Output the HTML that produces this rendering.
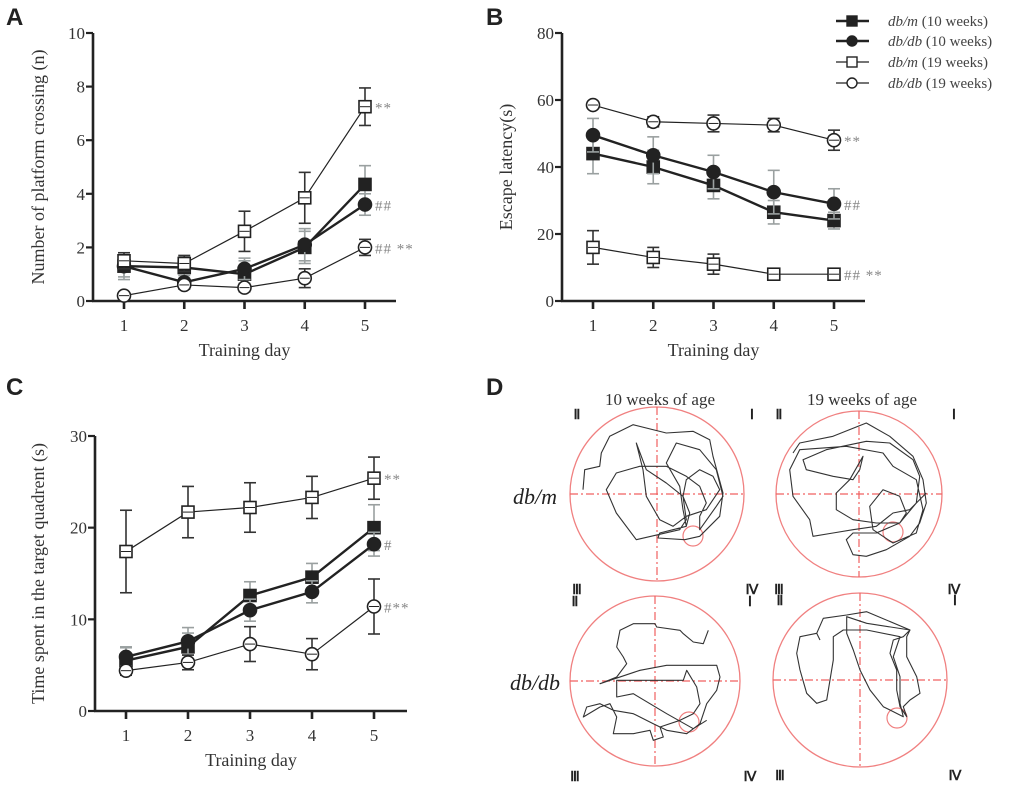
<!DOCTYPE html>
<html><head><meta charset="utf-8"><style>
html,body{margin:0;padding:0;background:#fff;}
svg{display:block;font-family:"Liberation Serif",serif;}
.pl{font-family:"Liberation Sans",sans-serif;font-weight:bold;font-size:24px;fill:#222;}
</style></head><body>
<svg id="fig" width="1020" height="785" viewBox="0 0 1020 785" xmlns="http://www.w3.org/2000/svg"></svg>
<script>
const days=[1,2,3,4,5];
// Panel A: platform crossings
const aDbm10=[1.3,1.25,1.0,2.0,4.35], aDbm10e=[0.5,0.4,0.5,0.6,0.7];
const aDbdb10=[1.3,0.7,1.2,2.1,3.6], aDbdb10e=[0.4,0.25,0.4,0.6,0.4];
const aDbm19=[1.5,1.4,2.6,3.85,7.25], aDbm19e=[0.3,0.3,0.75,0.95,0.7];
const aDbdb19=[0.2,0.6,0.5,0.85,2.0], aDbdb19e=[0.1,0.15,0.15,0.35,0.3];
const aTicks=[0,2,4,6,8,10];
// Panel B: escape latency
const bDbm10=[44,40,34.5,26.5,24], bDbm10e=[6,5,4,3.5,2.5];
const bDbdb10=[49.5,43.5,38.5,32.5,29], bDbdb10e=[5,5.5,5,6.5,4.5];
const bDbm19=[16,13,11,8,8], bDbm19e=[5,3,3,1,1];
const bDbdb19=[58.5,53.5,53,52.5,48], bDbdb19e=[1,1.5,2.5,2,3];
const bTicks=[0,20,40,60,80];
// Panel C: time in target quadrant
const cDbm10=[5.5,7,12.6,14.6,20], cDbm10e=[1.5,1.5,1.5,1.5,2.5];
const cDbdb10=[5.9,7.6,11,13,18.2], cDbdb10e=[1,1.5,1.2,1.2,1.3];
const cDbm19=[17.4,21.7,22.2,23.3,25.4], cDbm19e=[4.5,2.8,2.7,2.3,2.3];
const cDbdb19=[4.4,5.3,7.3,6.2,11.4], cDbdb19e=[0.5,0.8,1.9,1.7,3];
const cTicks=[0,10,20,30];

const S=document.getElementById('fig');
const NS='http://www.w3.org/2000/svg';
function el(t,a,p){const e=document.createElementNS(NS,t);for(const k in a)e.setAttribute(k,a[k]);(p||S).appendChild(e);return e;}
function txt(s,a,p){const e=el('text',a,p);e.textContent=s;return e;}

function panel(cfg){
 const g=el('g',{});
 
 
 const X=d=>cfg.x1+(d-1)*(cfg.x5-cfg.x1)/4;
 const Y=v=>cfg.y0-(v/cfg.max)*(cfg.y0-cfg.ytop);
 const ya=el('line',{x1:cfg.ax,y1:cfg.ytop,x2:cfg.ax,y2:cfg.y0+1,stroke:'#222','stroke-width':2.6},g);
 
 const xa=el('line',{x1:cfg.ax-1,y1:cfg.y0,x2:cfg.xend,y2:cfg.y0,stroke:'#222','stroke-width':2.6},g);
 
 cfg.ticks.forEach(t=>{
  el('line',{x1:cfg.ax-7,y1:Y(t),x2:cfg.ax,y2:Y(t),stroke:'#222','stroke-width':2.2},g);
  const l=txt(String(t),{x:cfg.ax-8,y:Y(t)+6,'text-anchor':'end','font-size':17,fill:'#333'},g);
  
 });
 days.forEach(d=>{
  el('line',{x1:X(d),y1:cfg.y0,x2:X(d),y2:cfg.y0+8,stroke:'#222','stroke-width':2.6},g);
  const l=txt(String(d),{x:X(d),y:cfg.y0+30,'text-anchor':'middle','font-size':17,fill:'#333'},g);
  
 });
 const xt=txt('Training day',{x:(cfg.ax+cfg.xend)/2,y:cfg.y0+55,'text-anchor':'middle','font-size':18,fill:'#333'},g);
 
 const yt=txt(cfg.ylabel,{x:0,y:0,'text-anchor':'middle','font-size':18,fill:'#333',transform:`translate(${cfg.ylx},${(cfg.ytop+cfg.y0)/2}) rotate(-90)`},g);
 
 const pl=txt(cfg.letter,{x:cfg.lx,y:cfg.ly,class:'pl'},g);
 
 cfg.series.forEach(s=>{
  const sg=el('g',{},g);
  
  
  const ec=s.grayErr?'#9aa0a0':'#333';
  s.v.forEach((v,i)=>{
   const x=X(days[i]),e=s.e[i];
   el('line',{x1:x,y1:Y(v+e),x2:x,y2:Y(v-e),stroke:ec,'stroke-width':1.6},sg);
   el('line',{x1:x-6,y1:Y(v+e),x2:x+6,y2:Y(v+e),stroke:ec,'stroke-width':1.6},sg);
   el('line',{x1:x-6,y1:Y(v-e),x2:x+6,y2:Y(v-e),stroke:ec,'stroke-width':1.6},sg);
  });
  const pts=s.v.map((v,i)=>X(days[i])+','+Y(v)).join(' ');
  const ln=el('polyline',{points:pts,fill:'none',stroke:'#222','stroke-width':s.filled?2.4:1.2},sg);
  
  s.v.forEach((v,i)=>{
   const x=X(days[i]),y=Y(v);let m;
   if(s.shape==='sq') m=el('rect',{x:x-6,y:y-6,width:12,height:12,fill:s.filled?'#222':'#fff',stroke:'#222','stroke-width':1.6},sg);
   else m=el('circle',{cx:x,cy:y,r:6.5,fill:s.filled?'#222':'#fff',stroke:'#222','stroke-width':1.6},sg);
   
   
   if(!s.filled) el('line',{x1:x-5,y1:y,x2:x+5,y2:y,stroke:'#222','stroke-width':1},sg);
  });
  if(s.note){const n=txt(s.note,{x:X(5)+10,y:Y(s.v[4])+6,'font-size':15,fill:'#888','letter-spacing':'1'},sg);
   }
 });
}
panel({name:'panel-a',letter:'A',lx:6,ly:25,ax:93,ytop:33,y0:301,max:10,x1:124,x5:365,xend:396,ticks:aTicks,ylabel:'Number of platform crossing (n)',ylx:44,
 series:[
 {id:'dbm10',v:aDbm10,e:aDbm10e,shape:'sq',filled:true,grayErr:true},
 {id:'dbdb10',v:aDbdb10,e:aDbdb10e,shape:'ci',filled:true,grayErr:true,note:'##'},
 {id:'dbm19',v:aDbm19,e:aDbm19e,shape:'sq',filled:false,note:'**'},
 {id:'dbdb19',v:aDbdb19,e:aDbdb19e,shape:'ci',filled:false,note:'## **'}]});
panel({name:'panel-b',letter:'B',lx:486,ly:25,ax:562,ytop:33,y0:301,max:80,x1:593,x5:834,xend:865,ticks:bTicks,ylabel:'Escape latency(s)',ylx:512,
 series:[
 {id:'dbm10',v:bDbm10,e:bDbm10e,shape:'sq',filled:true,grayErr:true},
 {id:'dbdb10',v:bDbdb10,e:bDbdb10e,shape:'ci',filled:true,grayErr:true,note:'##'},
 {id:'dbm19',v:bDbm19,e:bDbm19e,shape:'sq',filled:false,note:'## **'},
 {id:'dbdb19',v:bDbdb19,e:bDbdb19e,shape:'ci',filled:false,note:'**'}]});
panel({name:'panel-c',letter:'C',lx:6,ly:395,ax:95,ytop:436,y0:711,max:30,x1:126,x5:374,xend:407,ticks:cTicks,ylabel:'Time spent in the target quadrent (s)',ylx:44,
 series:[
 {id:'dbm10',v:cDbm10,e:cDbm10e,shape:'sq',filled:true,grayErr:true},
 {id:'dbdb10',v:cDbdb10,e:cDbdb10e,shape:'ci',filled:true,grayErr:true,note:'#'},
 {id:'dbm19',v:cDbm19,e:cDbm19e,shape:'sq',filled:false,note:'**'},
 {id:'dbdb19',v:cDbdb19,e:cDbdb19e,shape:'ci',filled:false,note:'#**'}]});

// Legend
const lg=el('g',{});


[['dbm10','sq',true,'db/m','(10 weeks)',21],['dbdb10','ci',true,'db/db','(10 weeks)',41],['dbm19','sq',false,'db/m','(19 weeks)',62],['dbdb19','ci',false,'db/db','(19 weeks)',83]].forEach(r=>{
 const eg=el('g',{},lg);
 
 
 el('line',{x1:836,y1:r[5],x2:869,y2:r[5],stroke:'#222','stroke-width':r[2]?2.6:1.2},eg);
 if(r[1]==='sq') el('rect',{x:847,y:r[5]-5,width:10,height:10,fill:r[2]?'#222':'#fff',stroke:'#222','stroke-width':1.4},eg);
 else el('circle',{cx:852,cy:r[5],r:5,fill:r[2]?'#222':'#fff',stroke:'#222','stroke-width':1.4},eg);
 const t=el('text',{x:888,y:r[5]+5,'font-size':15,fill:'#444'},eg);
 const i=el('tspan',{'font-style':'italic'},t);i.textContent=r[3];
 const n=el('tspan',{},t);n.textContent=' '+r[4];
});

// Panel D
const dg=el('g',{});


txt('D',{x:486,y:395,class:'pl'},dg);
txt('10 weeks of age',{x:660,y:405,'text-anchor':'middle','font-size':17,fill:'#333'},dg);
txt('19 weeks of age',{x:862,y:405,'text-anchor':'middle','font-size':17,fill:'#333'},dg);
txt('db/m',{x:535,y:504,'text-anchor':'middle','font-size':22,'font-style':'italic',fill:'#222'},dg);
txt('db/db',{x:535,y:690,'text-anchor':'middle','font-size':22,'font-style':'italic',fill:'#222'},dg);
// trajectories traced in 3x zoom pixel coords relative to a zoom-space center
const pools=[
 {name:'pool-dbm-10w',cx:657,cy:494,r:87,px:693,py:536,zc:[472,373],
  path:[[250,360],[255,300],[300,290],[305,250],[330,200],[400,165],[500,190],[580,185],[630,210],[640,260],[670,370],[660,440],[600,500],[555,510],[475,505],[480,490],[520,480],[560,470],[570,430],[550,380],[560,330],[600,300],[640,320],[660,360],[620,420],[560,440],[520,470],[480,450],[440,380],[430,300],[410,220],[440,300],[500,340],[550,380],[560,450],[540,480],[410,510],[350,430],[320,360],[350,310],[420,290],[500,290],[560,320],[600,350],[620,400],[600,440],[600,480],[650,410],[670,380],[650,300],[600,240],[530,220],[500,280],[540,350],[550,420],[560,470]]},
 {name:'pool-dbm-19w',cx:859,cy:494,r:83,px:893,py:532,zc:[1078,373],
  path:[[880,250],[900,220],[1000,200],[1100,160],[1170,200],[1240,260],[1270,330],[1280,400],[1260,460],[1230,500],[1160,540],[1100,560],[1060,555],[1040,510],[1060,490],[1130,490],[1200,460],[1250,400],[1260,320],[1240,270],[1170,220],[1100,215],[980,240],[910,270],[920,300],[1000,320],[1060,330],[1080,300],[1090,260],[1050,330],[1010,370],[1010,420],[1060,450],[1130,460],[1200,460],[1220,430],[1200,380],[1150,360],[1110,410],[1120,480],[1180,520],[1250,490],[1270,420],[1250,330],[1180,290],[1150,250],[1040,230],[900,240],[870,300],[880,380],[930,450],[940,500],[1000,490],[1060,480],[1130,470],[1180,430],[1230,420],[1280,370]]},
 {name:'pool-dbdb-10w',cx:655,cy:681,r:85,px:689,py:722,zc:[465,932],
  path:[[625,780],[610,820],[580,815],[550,790],[540,780],[470,770],[465,760],[400,760],[360,780],[350,830],[370,860],[380,880],[350,920],[300,940],[330,930],[420,900],[500,885],[560,885],[650,885],[660,920],[650,960],[620,1000],[600,1060],[560,1090],[500,1080],[460,1060],[400,1030],[340,1020],[300,1000],[260,1010],[250,1040],[300,1010],[330,1000],[350,1040],[340,1090],[400,1090],[450,1080],[460,1110],[490,1100],[480,1070],[540,1050],[580,1030],[600,1000],[590,950],[560,900],[550,930],[350,930],[350,980],[400,970],[500,1030],[580,1075],[620,1050]]},
 {name:'pool-dbdb-19w',cx:860,cy:680,r:87,px:897,py:718,zc:[1080,930],
  path:[[960,810],[950,790],[970,745],[1040,735],[1100,725],[1230,780],[1210,800],[1180,810],[1170,850],[1190,900],[1190,960],[1200,1010],[1220,1040],[1210,1010],[1230,990],[1260,970],[1250,920],[1220,860],[1220,800],[1230,780],[1100,760],[1040,740],[1040,790],[1060,840],[1080,900],[1110,960],[1150,1010],[1210,1040],[1200,1000],[1200,920],[1180,860],[1200,800],[1100,780],[1030,780],[1000,800],[1000,870],[990,930],[980,990],[950,1000],[920,970],[900,900],[890,850],[900,800],[950,790]]}
];
pools.forEach(p=>{
 const pg=el('g',{},dg);
 
 
 el('circle',{cx:p.cx,cy:p.cy,r:p.r,fill:'none',stroke:'#f08080','stroke-width':1.3},pg);
 el('line',{x1:p.cx-p.r,y1:p.cy,x2:p.cx+p.r,y2:p.cy,stroke:'#f06060','stroke-width':1.2,'stroke-dasharray':'8 3 2 3'},pg);
 el('line',{x1:p.cx,y1:p.cy-p.r,x2:p.cx,y2:p.cy+p.r,stroke:'#f06060','stroke-width':1.2,'stroke-dasharray':'8 3 2 3'},pg);
 const plat=el('circle',{cx:p.px,cy:p.py,r:10,fill:'none',stroke:'#f08080','stroke-width':1.2},pg);
 
 const tr=el('polyline',{points:p.path.map(q=>(p.cx+(q[0]-p.zc[0])/3).toFixed(1)+','+(p.cy+(q[1]-p.zc[1])/3).toFixed(1)).join(' '),fill:'none',stroke:'#333','stroke-width':1.1,'stroke-linejoin':'round'},pg);
 
 const f={'font-size':14,'font-weight':'bold',fill:'#222','text-anchor':'middle'};
 txt('Ⅱ',Object.assign({x:p.cx-80,y:p.cy-75},f),pg);
 txt('Ⅰ',Object.assign({x:p.cx+95,y:p.cy-75},f),pg);
 txt('Ⅲ',Object.assign({x:p.cx-80,y:p.cy+100},f),pg);
 txt('Ⅳ',Object.assign({x:p.cx+95,y:p.cy+100},f),pg);
});
</script>
</body></html>
